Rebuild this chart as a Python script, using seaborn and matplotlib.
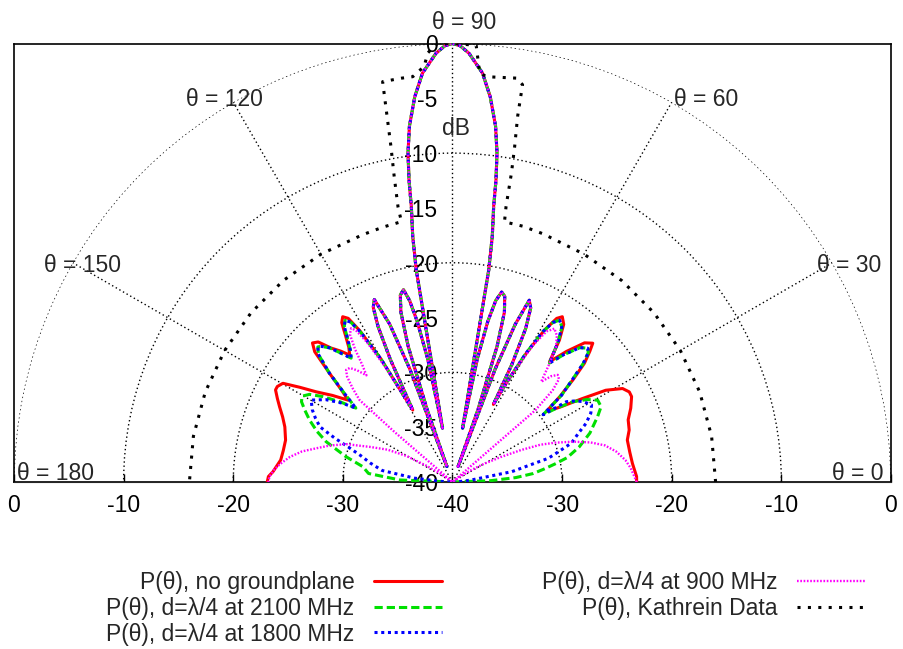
import numpy as np
import matplotlib
matplotlib.use("Agg")
import matplotlib.pyplot as plt
import seaborn as sns

# ---------------- data: theta in degrees, P(theta) in dB ----------------
# inner pattern (main lobe + first two sidelobes each side), shared by the computed curves
CORE_THETA = [62.2, 63.2, 64.5, 65.8, 67.1, 68.3, 69.3, 70.1,
              70.6, 71.8, 73.0, 74.3, 75.5, 76.6, 77.6, 78.6, 79.4,
              80.3, 80.8, 81.5, 81.8, 82.3, 83.1, 84.4, 85.8, 87.8, 89.0, 90.0,
              91.0, 92.2, 94.2, 95.6, 96.9, 97.7, 98.2, 98.5, 99.2, 99.7,
              100.5, 101.4, 102.4, 103.3, 104.3, 105.6, 106.9, 108.1, 109.3, 109.9,
              110.7, 111.7, 113.2, 114.4, 115.6, 116.9, 118.9]
CORE_DB = [-32.0, -28.0, -24.5, -22.6, -22.0, -24.5, -29.0, -38.5,
           -33.0, -27.0, -23.8, -22.4, -22.1, -23.0, -25.0, -28.5, -35.0,
           -20.4, -17.3, -14.6, -12.2, -9.7, -7.3, -4.7, -2.6, -0.86, -0.2, 0.0,
           -0.2, -0.86, -2.6, -4.7, -7.3, -9.7, -12.2, -14.6, -17.3, -20.4,
           -35.0, -28.5, -25.0, -23.0, -21.9, -22.3, -23.8, -27.0, -33.0, -38.5,
           -29.0, -24.5, -21.9, -22.5, -24.3, -27.5, -32.5]

# no groundplane (red)
RED_R_THETA = [0, 1.7, 5.9, 9.5, 13.5, 16.4, 19.5, 22.5, 25.5, 27.0, 28.8, 30.9, 32.7, 34.8, 36.9,
               38.5, 40.3, 42.0, 43.6, 44.7, 46.5, 48.9, 51.1,
               53.0, 54.8, 56.4, 57.5, 58.8, 60.2, 61.4]
RED_R_DB = [-23.2, -23.2, -23.5, -23.6, -23.6, -23.2, -23.0, -22.4, -21.9, -21.9, -22.3, -23.7, -25.9, -28.0, -29.3,
            -27.5, -25.6, -23.8, -22.7, -22.0, -22.5, -24.2, -25.9,
            -23.8, -22.4, -21.9, -22.3, -23.8, -26.5, -29.5]
RED_L_THETA = [120.2, 121.5, 122.5, 123.6, 124.8, 126.2, 127.6, 129.0,
               130.5, 132.2, 133.8, 135.2, 136.6, 138.5, 140.3, 141.9,
               144.2, 146.5, 148.2, 149.8, 151.4, 152.5, 154.5, 156.5, 159.0, 161.8,
               165.9, 169.5, 172.7, 176.7, 178.3, 180.0]
RED_L_DB = [-27.0, -23.8, -22.3, -21.9, -22.3, -23.5, -24.5, -25.1,
            -24.3, -23.5, -22.3, -22.0, -22.7, -25.0, -26.8, -27.9,
            -26.5, -25.1, -23.6, -22.1, -21.8, -21.8, -22.3, -22.8, -23.4, -23.9,
            -24.3, -24.3, -24.2, -23.6, -23.2, -23.1]

# d = lambda/4 at 2100 MHz (green)
GRN_R_THETA = [0, 2, 4, 6, 8, 10, 12, 15.5, 19.6, 24.2, 26.9, 29.4, 31.5, 33.7, 35.3, 36.6,
               38.5, 40.3, 42.2, 43.6, 44.7, 46.5, 48.9, 50.8,
               53.0, 54.8, 56.5, 57.8, 59.0, 60.3, 61.4]
GRN_R_DB = [-40.0, -36.5, -34.2, -32.6, -31.6, -30.5, -29.3, -28.0, -26.7, -25.5, -24.8, -24.8, -25.6, -26.8, -28.3, -29.7,
            -27.3, -25.8, -23.9, -22.9, -22.65, -23.1, -24.6, -26.0,
            -24.0, -22.7, -22.3, -22.8, -24.0, -26.5, -29.5]
GRN_L_THETA = [120.2, 121.5, 122.5, 123.6, 124.8, 126.2, 127.8, 129.3,
               130.8, 132.5, 134.0, 134.9, 136.4, 138.5, 140.6, 142.6,
               144.5, 146.7, 148.5, 150.3, 152.0, 154.0, 156.6, 159.5, 162.3,
               166.6, 170.3, 174.2, 177.8, 180.0]
GRN_L_DB = [-27.0, -24.0, -22.7, -22.3, -22.7, -23.8, -24.8, -25.4,
            -24.5, -23.4, -22.8, -22.6, -23.1, -25.0, -27.2, -28.9,
            -27.4, -25.8, -24.7, -24.2, -24.4, -25.0, -25.8, -26.8, -27.9,
            -30.0, -31.7, -32.3, -35.2, -40.0]

# d = lambda/4 at 1800 MHz (blue)
BLU_R_THETA = [0, 3.0, 6.0, 9.9, 13.9, 16.0, 18.1, 21.4, 23.7, 26.5, 29.0, 31.6, 33.5, 35.2, 36.6,
               38.5, 40.3, 42.2, 43.6, 44.7, 46.5, 48.9, 50.8,
               53.0, 54.8, 56.5, 57.8, 59.0, 60.3, 61.4]
BLU_R_DB = [-40.0, -39.4, -38.3, -34.5, -31.0, -29.9, -28.6, -27.6, -26.7, -25.9, -25.5, -26.0, -26.6, -27.3, -29.7,
            -27.3, -25.8, -23.9, -22.9, -22.65, -23.1, -24.6, -26.0,
            -24.0, -22.7, -22.3, -22.8, -24.0, -26.5, -29.5]
BLU_L_THETA = [120.2, 121.5, 122.5, 123.6, 124.8, 126.2, 127.8, 129.3,
               130.8, 132.5, 134.0, 134.9, 136.4, 138.5, 140.6, 142.6,
               144.5, 147.0, 149.9, 152.7, 155.0, 157.4, 159.5, 161.5, 164.0,
               167.0, 170.7, 174.2, 177.0, 180.0]
BLU_L_DB = [-27.0, -24.0, -22.7, -22.3, -22.7, -23.8, -24.8, -25.4,
            -24.5, -23.4, -22.8, -22.6, -23.1, -25.0, -27.2, -28.9,
            -27.6, -26.2, -25.1, -25.6, -26.2, -26.9, -28.5, -30.0, -31.3,
            -32.3, -33.5, -36.5, -38.8, -40.0]

# d = lambda/4 at 900 MHz (magenta)
MAG_R_THETA = [0, 1.7, 4.5, 7.2, 10.5, 13.5, 16.0, 18.5, 21.0, 23.0, 25.0, 27.3, 30.0, 32.3, 35.5, 38.0,
               40.5, 40.9, 42.5, 44.0, 45.5, 47.0, 48.5,
               50.5, 52.5, 54.5, 56.4, 58.0, 59.5, 61.0]
MAG_R_DB = [-23.2, -23.4, -23.7, -24.1, -24.8, -25.7, -26.9, -28.4, -30.0, -31.3, -33.1, -35.0, -36.7, -37.9, -39.2, -40.0,
            -40.0, -30.0, -27.6, -26.5, -26.3, -26.8, -27.8,
            -26.2, -24.5, -23.6, -23.2, -23.8, -25.5, -28.5]
MAG_L_THETA = [120.2, 121.5, 122.5, 123.4, 124.8, 126.3, 127.6, 128.9,
               130.5, 132.0, 133.5, 135.0, 136.8, 138.6, 139.2, 139.5,
               142.0, 145.0, 148.0, 150.5, 153.5, 157.0, 160.4, 163.5, 166.1,
               168.5, 171.2, 174.0, 176.0, 178.3, 180.0]
MAG_L_DB = [-28.0, -25.0, -23.6, -23.2, -23.6, -25.0, -26.5, -27.5,
            -26.6, -26.0, -25.9, -26.4, -27.5, -28.7, -33.0, -40.0,
            -40.0, -38.8, -37.2, -35.2, -33.4, -31.8, -29.7, -28.3, -27.2,
            -26.0, -25.0, -24.2, -23.7, -23.3, -23.2]

# Kathrein data (black)
KAT_THETA = [0, 10, 20, 30, 40, 50, 60, 70, 74.6, 78.7,
             79.0, 79.2, 79.5, 79.9, 80.0, 81.0, 85.2, 86.2, 86.9, 90.0,
             92.1, 93.3, 93.9, 95.6, 97.2, 99.9, 100.0, 100.4, 100.8, 101.2,
             101.1, 105.3, 110, 120, 130, 140, 150, 160, 170, 180]
KAT_DB = [-16.0, -16.0, -16.0, -16.0, -16.0, -16.0, -16.0, -15.9, -15.8, -15.8,
          -14.4, -11.3, -8.9, -6.1, -3.2, -2.7, -2.9, -2.6, -0.1, 0.0,
          0.0, -0.8, -2.0, -2.85, -2.87, -2.93, -4.3, -8.9, -11.6, -14.4,
          -15.8, -15.9, -16.0, -16.0, -16.0, -16.0, -16.0, -16.0, -16.0, -16.0]

LABELS = ["P(θ), no groundplane",
          "P(θ), d=λ/4 at 2100 MHz",
          "P(θ), d=λ/4 at 1800 MHz",
          "P(θ), d=λ/4 at 900 MHz",
          "P(θ), Kathrein Data"]

SERIES_THETA = [RED_R_THETA + CORE_THETA + RED_L_THETA,
                GRN_R_THETA + CORE_THETA + GRN_L_THETA,
                BLU_R_THETA + CORE_THETA + BLU_L_THETA,
                MAG_R_THETA + CORE_THETA + MAG_L_THETA,
                KAT_THETA]
SERIES_DB = [RED_R_DB + CORE_DB + RED_L_DB,
             GRN_R_DB + CORE_DB + GRN_L_DB,
             BLU_R_DB + CORE_DB + BLU_L_DB,
             MAG_R_DB + CORE_DB + MAG_L_DB,
             KAT_DB]

R_TICKS = list(range(-40, 1, 5))
X_TICKS = list(range(-40, 41, 10))
X_TICK_LABELS = ["0", "-10", "-20", "-30", "-40", "-30", "-20", "-10", "0"]
R_GRID = [-30, -20, -10, 0]
THETA_GRID = [30, 60, 90, 120, 150]

# ---------------- styles ----------------
STYLES = [
    dict(color="#ff0000", linewidth=2.2, linestyle="-"),
    dict(color="#00e000", linewidth=2.2, linestyle=(0, (2.7, 1.3))),
    dict(color="#0000ff", linewidth=2.2, linestyle=(0, (1.0, 1.2))),
    dict(color="#ff00ff", linewidth=1.7, linestyle=(0, (0.7, 0.7))),
    dict(color="#000000", linewidth=2.2, linestyle=(0, (1.0, 2.4))),
]

sns.set_style("white")
plt.rcParams["font.family"] = ["Liberation Sans", "DejaVu Sans"]
plt.rcParams["axes.unicode_minus"] = False
FS = 16.5

W, H = 904, 649
CX, CY, R = 452.5, 482.0, 438.5   # pixel geometry of the half-disk


def fx(px):
    return px / W


def fy(py):
    return 1 - py / H


fig = plt.figure(figsize=(W / 100, H / 100), dpi=100)

# frame axes (rectangle, bottom tick labels)
axc = fig.add_axes([fx(CX - R), fy(CY), 2 * R / W, R / H])
axc.set_xlim(-40, 40)
axc.set_ylim(0, 40)
axc.set_xticks(X_TICKS)
axc.set_xticklabels(X_TICK_LABELS)
axc.set_yticks([])
axc.tick_params(axis="x", direction="in", length=5.5, width=1, pad=9,
                labelsize=FS, top=False, bottom=True, colors="black")
for s in axc.spines.values():
    s.set_visible(True)
    s.set_color("black")
    s.set_linewidth(1.2)

# central radial axis with dB ticks
axr = fig.add_axes([fx(CX - R), fy(CY), 2 * R / W, R / H])
axr.set_ylim(-40, 0)
axr.set_xlim(0, 1)
axr.patch.set_visible(False)
axr.set_xticks([])
axr.set_yticks(R_TICKS)
axr.set_yticklabels([str(t) for t in R_TICKS])
for name, s in axr.spines.items():
    s.set_visible(name == "left")
axr.spines["left"].set_position(("axes", 0.5))
axr.spines["left"].set_color("none")
axr.tick_params(axis="y", direction="inout", length=11.5, width=1, pad=5,
                labelsize=FS, colors="black")

# polar axes holding the data
axp = fig.add_axes([fx(CX - R), ((H - CY) - 0.5 * R) / H, 2 * R / W, 2 * R / H],
                   projection="polar")
axp.set_facecolor("none")
for lab, th, db, st in zip(LABELS, SERIES_THETA, SERIES_DB, STYLES):
    sns.lineplot(x=np.radians(th), y=db, ax=axp, sort=False, estimator=None,
                 legend=False, label=lab, **st)
axp.set_thetamin(0)
axp.set_thetamax(180)
axp.set_ylim(-40, 0)
axp.set_yticks(R_GRID)
axp.set_yticklabels([])
axp.set_xticks(np.radians(THETA_GRID))
axp.set_xticklabels([])
axp.tick_params(length=0)
axp.grid(True, color="black", linestyle=(0, (1, 2)), linewidth=1.0)
for s in axp.spines.values():
    s.set_visible(False)
axp.set_xlabel("")
axp.set_ylabel("")

# angle labels and unit label
for txt, x, y, ha in [("θ = 90", 464, 20, "center"),
                      ("θ = 60", 706, 97, "center"),
                      ("θ = 120", 224, 97, "center"),
                      ("θ = 30", 849, 263, "center"),
                      ("θ = 150", 83, 263, "center"),
                      ("θ = 180", 17, 471, "left"),
                      ("θ = 0", 884, 471, "right")]:
    fig.text(fx(x), fy(y), txt, ha=ha, va="center_baseline", fontsize=FS)
fig.text(fx(456), fy(126), "dB", ha="center", va="center_baseline", fontsize=FS)

handles, labels = axp.get_legend_handles_labels()
fig.legend(handles, labels, ncol=2, loc="upper right",
           bbox_to_anchor=(fx(865), fy(571)), markerfirst=False, frameon=False,
           fontsize=FS, handlelength=2.95, handletextpad=0.85, columnspacing=4.4,
           labelspacing=0.12, borderpad=0, borderaxespad=0)

fig.savefig("out.png", dpi=100)
